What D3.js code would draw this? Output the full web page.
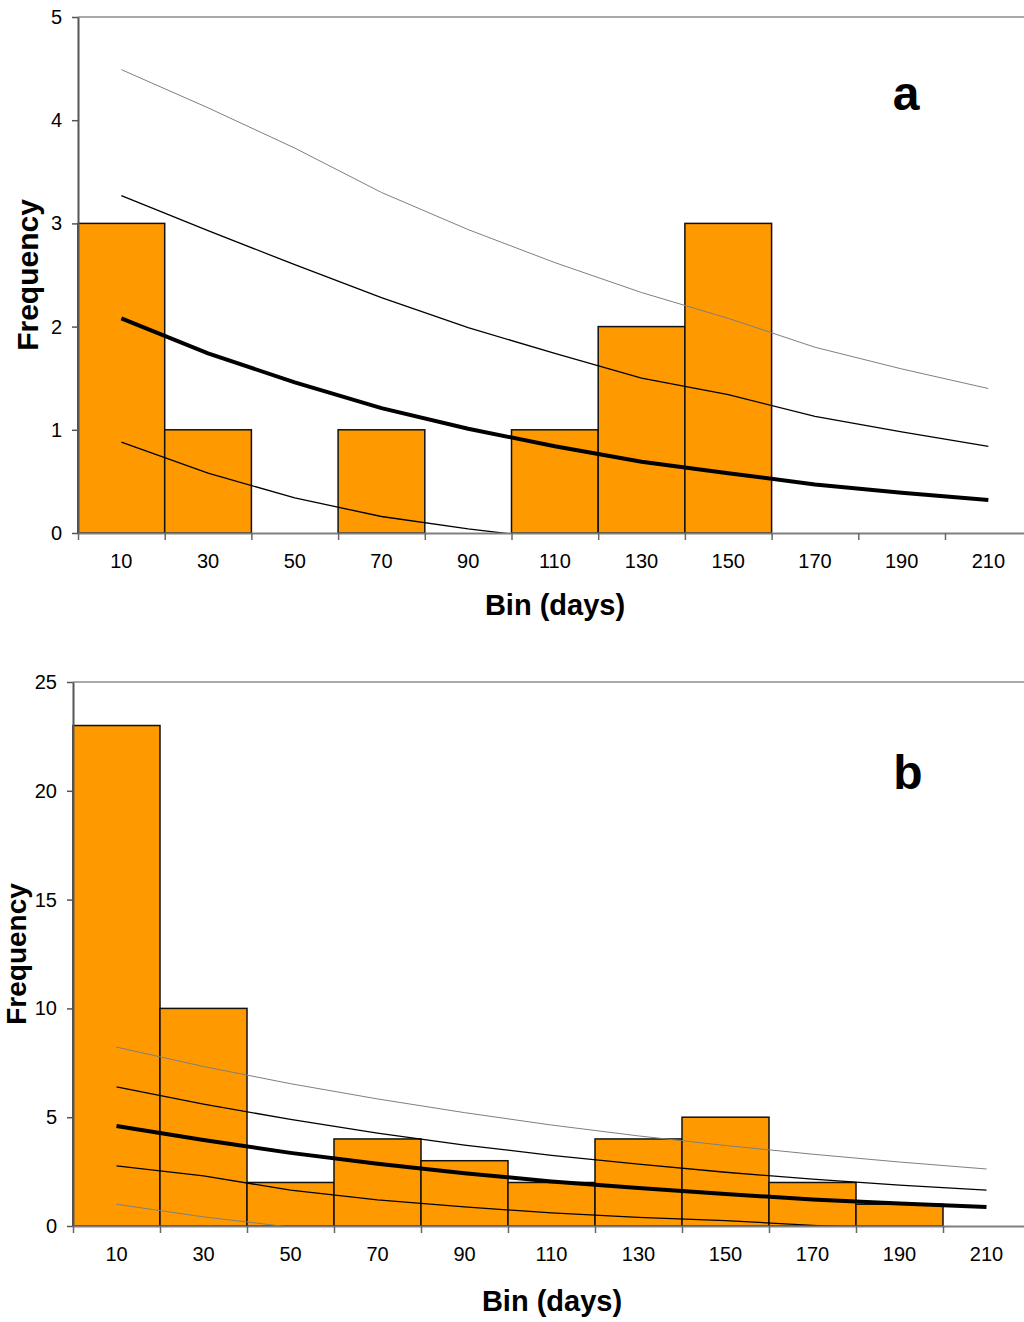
<!DOCTYPE html>
<html>
<head>
<meta charset="utf-8">
<script src="https://cdn.jsdelivr.net/npm/d3@7"></script>
<style>
  body { margin: 0; background: #fff; }
  svg { display: block; font-family: "Liberation Sans", Arial, sans-serif; }
  .axis text { font-size: 20px; fill: #000; }
</style>
</head>
<body>
<div id="chart"></div>
<script>
// bins (days) shared by both panels
const bins = [10, 30, 50, 70, 90, 110, 130, 150, 170, 190, 210];

// panel a
const countsA = [3, 1, 0, 1, 0, 1, 2, 3, 0, 0, 0];
const meanA   = [2.08, 1.74, 1.46, 1.21, 1.01, 0.84, 0.69, 0.58, 0.47, 0.39, 0.32];
const innerA  = [3.27, 2.93, 2.60, 2.28, 1.99, 1.74, 1.50, 1.34, 1.13, 0.98, 0.84];
const outerA  = [4.49, 4.12, 3.73, 3.30, 2.94, 2.62, 2.33, 2.08, 1.80, 1.59, 1.40];
const lowerA  = [0.88, 0.58, 0.34, 0.16, 0.04, -0.06, null, null, null, null, null];
const yTicksA = [0, 1, 2, 3, 4, 5];

// panel b
const countsB = [23, 10, 2, 4, 3, 2, 4, 5, 2, 1, 0];
const meanB   = [4.60, 3.95, 3.36, 2.86, 2.42, 2.05, 1.75, 1.47, 1.22, 1.03, 0.87];
const innerB  = [6.39, 5.60, 4.90, 4.27, 3.72, 3.25, 2.84, 2.47, 2.15, 1.88, 1.65];
const outerB  = [8.22, 7.33, 6.54, 5.84, 5.21, 4.64, 4.14, 3.70, 3.30, 2.94, 2.62];
const lowerB  = [2.76, 2.30, 1.65, 1.20, 0.88, 0.60, 0.40, 0.25, 0.03, -0.15, null];
const lowestB = [1.00, 0.42, -0.05, null, null, null, null, null, null, null, null];
const yTicksB = [0, 5, 10, 15, 20, 25];

const svg = d3.select('#chart').append('svg')
    .attr('width', 1024)
    .attr('height', 1322);

drawPanel({
    id: 'a', left: 78, top: 17, bottom: 533, bw: 86.7, yMax: 5, yTicks: yTicksA,
    counts: countsA,
    lines: [
        {values: outerA, color: '#7f7f7f', width: 1},
        {values: innerA, color: '#000', width: 1.3},
        {values: meanA,  color: '#000', width: 4},
        {values: lowerA, color: '#000', width: 1.3}
    ],
    letterX: 906, letterY: 110,
    yLabelX: 38, yLabelSize: 30, xLabelX: 555, xLabelY: 615
});

drawPanel({
    id: 'b', left: 73, top: 682, bottom: 1226, bw: 87, yMax: 25, yTicks: yTicksB,
    counts: countsB,
    lines: [
        {values: outerB,  color: '#7f7f7f', width: 1},
        {values: innerB,  color: '#000', width: 1.3},
        {values: meanB,   color: '#000', width: 4},
        {values: lowerB,  color: '#000', width: 1.3},
        {values: lowestB, color: '#7f7f7f', width: 1}
    ],
    letterX: 908, letterY: 789,
    yLabelX: 26, yLabelSize: 28, xLabelX: 552, xLabelY: 1311
});

function drawPanel(p) {
    const g = svg.append('g').attr('class', 'panel-' + p.id);
    const right = p.left + bins.length * p.bw;

    const xScale = d3.scaleBand()
        .domain(bins)
        .range([p.left, right])
        .padding(0);

    // index scale for tick marks between the bins
    const edgeScale = d3.scaleLinear()
        .domain([0, bins.length])
        .range([p.left, right]);

    const yScale = d3.scaleLinear()
        .domain([0, p.yMax])
        .range([p.bottom, p.top]);

    // plot area top border
    g.append('line')
        .attr('x1', p.left).attr('x2', right)
        .attr('y1', p.top).attr('y2', p.top)
        .attr('stroke', '#8c8c8c')
        .attr('stroke-width', 1.5);

    // bars
    const data = bins.map((b, i) => ({bin: b, count: p.counts[i]}));
    g.selectAll('rect.bar')
        .data(data.filter(d => d.count > 0))
        .enter()
      .append('rect')
        .attr('class', 'bar')
        .attr('x', d => xScale(d.bin))
        .attr('y', d => yScale(d.count))
        .attr('width', xScale.bandwidth())
        .attr('height', d => yScale(0) - yScale(d.count))
        .attr('fill', '#FF9900')
        .attr('stroke', '#111')
        .attr('stroke-width', 1.5);

    // fitted curves, clipped to the plot area
    g.append('clipPath')
        .attr('id', 'clip-' + p.id)
      .append('rect')
        .attr('x', p.left).attr('y', p.top)
        .attr('width', right - p.left)
        .attr('height', p.bottom - p.top);

    const line = d3.line()
        .defined(d => d.v !== null)
        .x(d => xScale(d.bin) + xScale.bandwidth() / 2)
        .y(d => yScale(d.v));

    p.lines.forEach(l => {
        g.append('path')
            .datum(bins.map((b, i) => ({bin: b, v: l.values[i]})))
            .attr('clip-path', `url(#clip-${p.id})`)
            .attr('d', line)
            .attr('fill', 'none')
            .attr('stroke', l.color)
            .attr('stroke-width', l.width);
    });

    // y axis
    const yAxis = d3.axisLeft(yScale)
        .tickValues(p.yTicks)
        .tickFormat(d3.format('d'))
        .tickSize(6)
        .tickPadding(10)
        .tickSizeOuter(0);

    const yAxisGroup = g.append('g')
        .attr('class', 'axis y-axis')
        .attr('transform', `translate(${p.left}, 0)`)
        .call(yAxis);
    yAxisGroup.select('.domain').attr('stroke', '#555').attr('stroke-width', 2);
    yAxisGroup.selectAll('.tick line').attr('stroke', '#555').attr('stroke-width', 1.5);

    // x axis: labels at bin centres
    const xAxis = d3.axisBottom(xScale)
        .tickSize(0)
        .tickPadding(21);

    const xAxisGroup = g.append('g')
        .attr('class', 'axis x-axis')
        .attr('transform', `translate(0, ${p.bottom})`)
        .call(xAxis);
    xAxisGroup.select('.domain').remove();

    // x axis: tick marks at bin edges
    const edgeAxis = d3.axisBottom(edgeScale)
        .tickValues(d3.range(0, bins.length + 1))
        .tickFormat('')
        .tickSize(7)
        .tickSizeOuter(0);

    const edgeGroup = g.append('g')
        .attr('class', 'axis edge-axis')
        .attr('transform', `translate(0, ${p.bottom})`)
        .call(edgeAxis);
    edgeGroup.select('.domain').attr('stroke', '#808080').attr('stroke-width', 2);
    edgeGroup.selectAll('.tick line').attr('stroke', '#666').attr('stroke-width', 1.5);

    // axis titles
    g.append('text')
        .attr('transform', `translate(${p.yLabelX}, ${(p.top + p.bottom) / 2}) rotate(-90)`)
        .attr('text-anchor', 'middle')
        .style('font-size', p.yLabelSize + 'px')
        .style('font-weight', 'bold')
        .text('Frequency');

    g.append('text')
        .attr('x', p.xLabelX)
        .attr('y', p.xLabelY)
        .attr('text-anchor', 'middle')
        .style('font-size', '29px')
        .style('font-weight', 'bold')
        .text('Bin (days)');

    // panel letter
    g.append('text')
        .attr('x', p.letterX)
        .attr('y', p.letterY)
        .attr('text-anchor', 'middle')
        .style('font-size', '48px')
        .style('font-weight', 'bold')
        .text(p.id);
}
</script>
</body>
</html>
